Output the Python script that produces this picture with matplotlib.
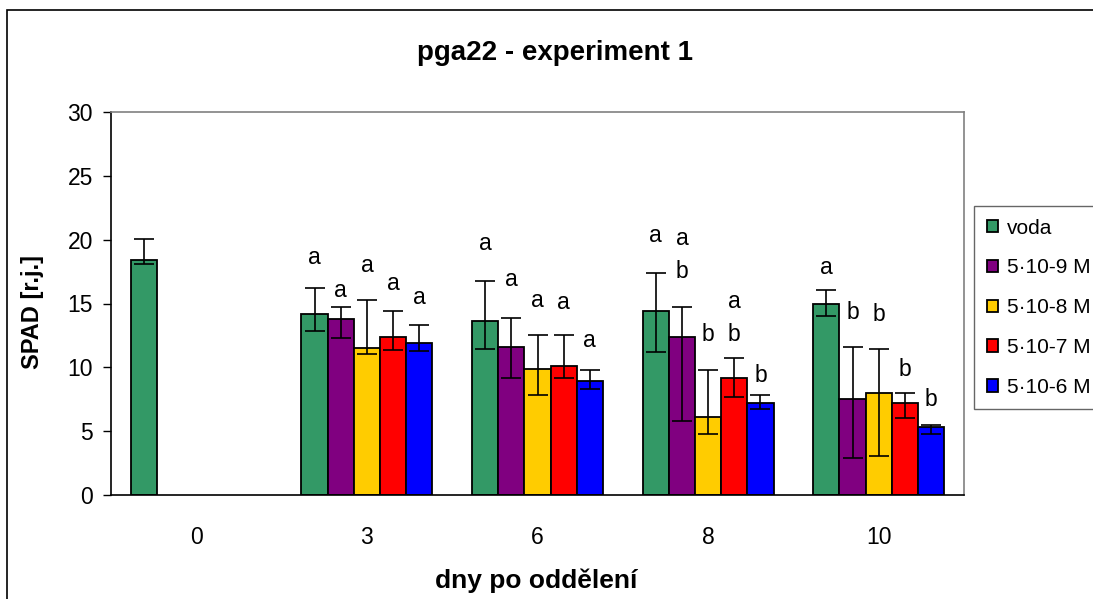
import numpy as np
import matplotlib
matplotlib.use("Agg")
import matplotlib.pyplot as plt
from matplotlib.patches import Rectangle

plt.rcParams['font.family'] = ['Liberation Sans', 'DejaVu Sans']

categories = ["0", "3", "6", "8", "10"]
series_names = ["voda", "5·10-9 M", "5·10-8 M", "5·10-7 M", "5·10-6 M"]
colors = ["#339966", "#800080", "#FFCC00", "#FF0000", "#0000FF"]

nan = np.nan
voda = [18.4, 14.2, 13.6, 14.4, 15.0]
c9 = [nan, 13.8, 11.6, 12.4, 7.5]
c8 = [nan, 11.5, 9.9, 6.1, 8.0]
c7 = [nan, 12.4, 10.1, 9.2, 7.2]
c6 = [nan, 11.9, 8.9, 7.2, 5.35]

err_hi_voda = [1.65, 2.0, 3.2, 2.95, 1.05]
err_lo_voda = [0.3, 1.35, 2.15, 3.2, 0.95]
err_hi_c9 = [0, 0.9, 2.3, 2.3, 4.1]
err_lo_c9 = [0, 1.5, 2.4, 6.6, 4.6]
err_hi_c8 = [0, 3.8, 2.65, 3.7, 3.4]
err_lo_c8 = [0, 0.45, 2.1, 1.35, 4.95]
err_hi_c7 = [0, 2.0, 2.45, 1.55, 0.8]
err_lo_c7 = [0, 1.05, 0.9, 1.5, 1.2]
err_hi_c6 = [0, 1.4, 0.9, 0.65, 0.1]
err_lo_c6 = [0, 0.6, 0.6, 0.45, 0.6]

sig_voda = ["", "a", "a", "a", "a"]
sig_c9 = ["", "a", "a", "ab", "b"]
sig_c8 = ["", "a", "a", "b", "b"]
sig_c7 = ["", "a", "a", "ab", "b"]
sig_c6 = ["", "a", "a", "b", "b"]
sig_y_voda = [nan, 18.6, 19.7, 20.3, 17.8]
sig_y_c9 = [nan, 16.0, 16.9, 20.1, 14.3]
sig_y_c8 = [nan, 18.0, 15.2, 12.6, 14.1]
sig_y_c7 = [nan, 16.6, 15.1, 15.15, 9.8]
sig_y_c6 = [nan, 15.5, 12.1, 9.35, 7.45]

means = [voda, c9, c8, c7, c6]
err_hi = [err_hi_voda, err_hi_c9, err_hi_c8, err_hi_c7, err_hi_c6]
err_lo = [err_lo_voda, err_lo_c9, err_lo_c8, err_lo_c7, err_lo_c6]
sigs = [sig_voda, sig_c9, sig_c8, sig_c7, sig_c6]
sig_ys = [sig_y_voda, sig_y_c9, sig_y_c8, sig_y_c7, sig_y_c6]

W, H = 1093, 599
fig = plt.figure(figsize=(W / 100, H / 100), dpi=100)
fig.patch.set_facecolor("white")

# outer chart border
fig.patches.append(Rectangle((7 / W, -0.1), 1.2, 1 - 10 / H + 0.1,
                             transform=fig.transFigure, fill=False,
                             edgecolor="black", linewidth=1.2))

ax = fig.add_axes([111 / W, 1 - 495 / H, 853 / W, 383 / H])
x = np.arange(len(categories))
bw = 0.1535
for i, (m, name, col) in enumerate(zip(means, series_names, colors)):
    xs = x + (i - 2) * bw
    m = np.array(m, dtype=float)
    ax.bar(xs, m, width=bw, color=col, edgecolor="black", linewidth=1.3,
           label=name, zorder=2)
    valid = ~np.isnan(m)
    ax.errorbar(xs[valid], m[valid],
                yerr=[np.array(err_lo[i])[valid], np.array(err_hi[i])[valid]],
                fmt="none", ecolor="black", elinewidth=1.2, capsize=7,
                capthick=1.2, zorder=3)
    for j in range(len(categories)):
        s = sigs[i][j]
        if not s:
            continue
        for k, ch in enumerate(s):
            ax.text(xs[j], sig_ys[i][j] - k * 2.6, ch, ha="center",
                    va="center", fontsize=16.5, color="black", zorder=4)

ax.set_xlim(-0.5, len(categories) - 0.5)
ax.set_ylim(0, 30)
ax.set_yticks([0, 5, 10, 15, 20, 25, 30])
ax.set_xticks(x)
ax.set_xticklabels(categories)
ax.tick_params(axis="y", direction="out", length=6, width=1, labelsize=16.5, pad=7)
ax.tick_params(axis="x", length=0, labelsize=16.5, pad=22)
for s in ["top", "right"]:
    ax.spines[s].set_color("#808080")
    ax.spines[s].set_linewidth(1.2)
for s in ["left", "bottom"]:
    ax.spines[s].set_color("black")
    ax.spines[s].set_linewidth(1.2)

fig.text(555 / W, 1 - 53 / H, "pga22 - experiment 1", ha="center", va="center",
         fontsize=20, fontweight="bold")
fig.text(33 / W, 1 - 312 / H, "SPAD [r.j.]", ha="center", va="center",
         rotation=90, fontsize=17, fontweight="bold")
fig.text(536 / W, 1 - 581 / H, "dny po oddělení", ha="center", va="center",
         fontsize=19, fontweight="bold")

leg = fig.legend(loc="upper left", bbox_to_anchor=(974 / W, 1 - 206 / H),
                 frameon=True, fancybox=False, fontsize=15,
                 handlelength=0.55, handleheight=0.55, handletextpad=0.45,
                 labelspacing=1.0, borderpad=0.6, borderaxespad=0)
leg.get_frame().set_edgecolor("#404040")
leg.get_frame().set_linewidth(1.0)
for h in leg.legend_handles:
    h.set_edgecolor("black")

fig.savefig("out.png", dpi=100)
